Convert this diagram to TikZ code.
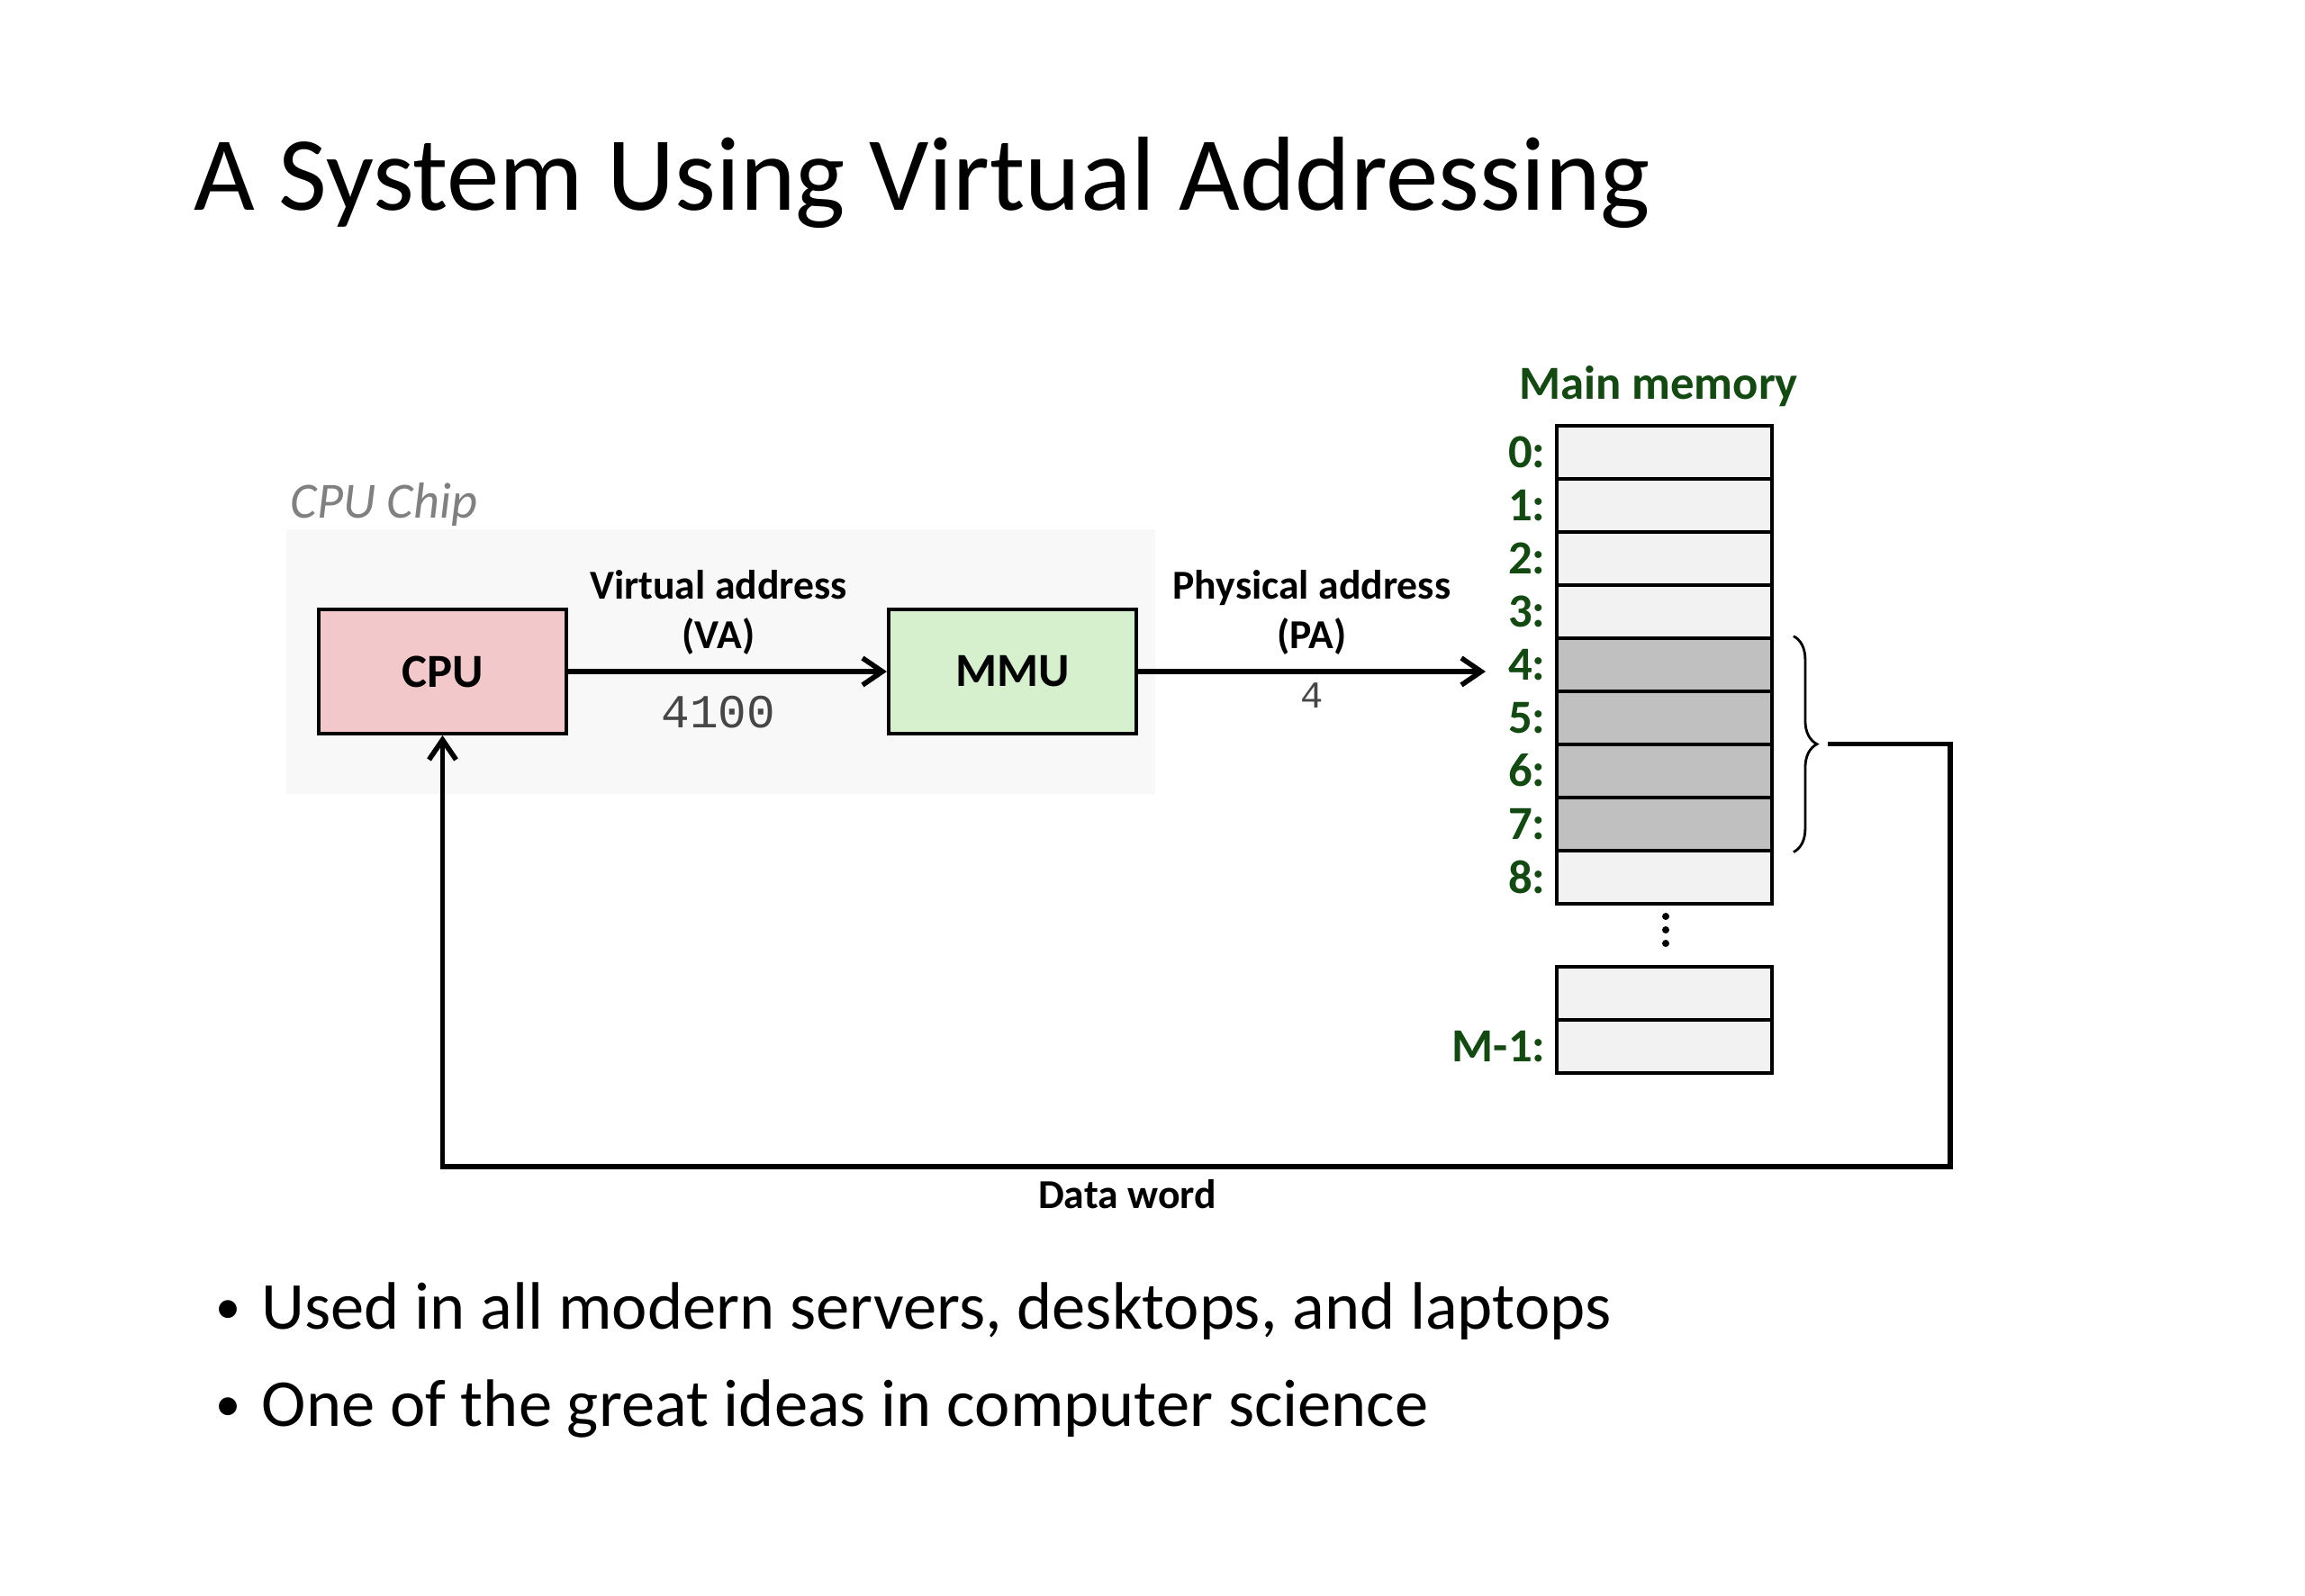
\documentclass[tikz,border=0pt]{standalone}
\usepackage{fontspec}
\setmainfont{Carlito}
\setmonofont{Liberation Mono}
\usepackage{tikz}
\usetikzlibrary{positioning}
\usetikzlibrary{arrows.meta, calc, decorations.pathreplacing}
\usetikzlibrary{matrix}

\definecolor{cpupink}{RGB}{242,200,202}
\definecolor{mmugreen}{RGB}{214,240,206}
\definecolor{chipgray}{RGB}{248,248,248}
\definecolor{cellgray}{RGB}{242,242,242}
\definecolor{cellshade}{RGB}{192,192,192}
\definecolor{memgreen}{RGB}{18,74,18}
\definecolor{numgray}{RGB}{70,70,70}

\newcommand{\itembullet}{\makebox[0.51cm][l]{\raisebox{0.6mm}{\fontsize{16}{16}\selectfont\textbullet}}}

\begin{document}
\begin{tikzpicture}

 \tikzset{mem matrix/.style={
 		matrix of nodes,
 		nodes in empty cells,
 		inner sep=0pt,
 		column sep=-1.1pt, row sep=-1.1pt,
 		nodes={draw, line width=1.1pt,
 			fill=cellgray,
 			minimum height=#1,
 			minimum width=2.39cm,
 			anchor=center,
 			inner sep=0pt
 		},
 	},
 	mem matrix/.default=.59cm,
 	unit/.style={draw, line width=1.1pt, minimum width=2.75cm, minimum height=1.38cm,
 		font=\fontsize{15}{18}\selectfont\bfseries},
 	lbl/.style={font=\fontsize{13}{15.6}\selectfont\bfseries, align=center, inner sep=0pt},
 	memlbl/.style={font=\fontsize{15}{18}\selectfont\bfseries, text=memgreen, inner sep=0pt},
 	num/.style={inner sep=0pt, text=numgray},
 	arr/.style={line width=1.6pt, -{Straight Barb[length=2.2mm, width=3mm, line width=1.6pt]}}
 }

 \fill[white] (0,0) rectangle (25.6,-17.72);
 \useasboundingbox (0,0) rectangle (25.6,-17.72);

 \node[anchor=base west, inner sep=0pt, font=\fontsize{33.3}{40}\selectfont] (title) at (2.15,-2.33)
 	{A System Using Virtual Addressing};

 % chip
 \fill[chipgray] (3.18,-5.88) rectangle (12.83,-8.82);
 \node[anchor=base west, inner sep=0pt, text=gray, font=\fontsize{16}{19}\selectfont\itshape] (chiplbl)
 	at (3.22,-5.75) {CPU Chip};

 \node[unit, fill=cpupink] (cpu) at (4.915,-7.46) {CPU};
 \node[unit, fill=mmugreen, right=3.54cm of cpu] (mmu) {MMU};

 % main memory
 \matrix[mem matrix, anchor=north] (mem) at (18.485,-4.70)
 {
 	\\
 	\\
 	\\
 	\\
 	|[fill=cellshade]| \\
 	|[fill=cellshade]| \\
 	|[fill=cellshade]| \\
 	|[fill=cellshade]| \\
 	\\
 };
 \node[memlbl, anchor=base] (memtitle) at (18.42,-4.43) {Main memory};
 \foreach \i [count=\r] in {0,...,8}
 	\node[memlbl, left=0.1cm of mem-\r-1] (lbl\i) {\i:};

 \coordinate (dots) at (18.50,-10.33);
 \foreach \k in {-1,0,1}
 	\fill ($(dots)+(0,0.15*\k)$) circle (0.04);

 \matrix[mem matrix, anchor=north] (memend) at (18.485,-10.71)
 {
 	\\
 	\\
 };
 \node[memlbl, left=0.1cm of memend-2-1] (lblm) {M-1:};

 % brace
 \draw[line width=0.8pt, decorate, decoration={brace, amplitude=0.26cm}]
 	($(mem-5-1.north east)+(0.22,0)$) -- ($(mem-8-1.south east)+(0.22,0)$);
 \coordinate (brtip) at ($(mem-5-1.north east)!0.5!(mem-8-1.south east)+(0.60,0)$);

 \coordinate (pa) at (16.50,-7.46);
 \coordinate (fbcorner) at (21.66,-12.96);

 \draw[arr] (cpu) -- (mmu)
 	node[lbl, midway, above=0.16cm, xshift=-0.1cm] (valbl) {Virtual address\\(VA)}
 	node[num, midway, below=0.24cm, xshift=-0.1cm, font=\fontsize{15}{18}\selectfont\ttfamily] (vanum) {4100};
 \draw[arr] (mmu) -- (pa)
 	node[lbl, midway, above=0.16cm] (palbl) {Physical address\\(PA)}
 	node[num, midway, below=0.1cm, font=\fontsize{12}{14}\selectfont\ttfamily] (panum) {4};

 \draw[arr] (brtip) -| (fbcorner) -| (cpu.south);
 \node[lbl, anchor=base] (dataword) at (12.52,-13.42) {Data word};

 \node[anchor=base west, inner sep=0pt, font=\fontsize{21.2}{25}\selectfont] (item1) at (2.39,-14.76)
 	{\itembullet Used in all modern servers, desktops, and laptops};
 \node[anchor=base west, inner sep=0pt, font=\fontsize{21.2}{25}\selectfont] (item2) at (2.39,-15.84)
 	{\itembullet One of the great ideas in computer science};
\end{tikzpicture}
\end{document}
